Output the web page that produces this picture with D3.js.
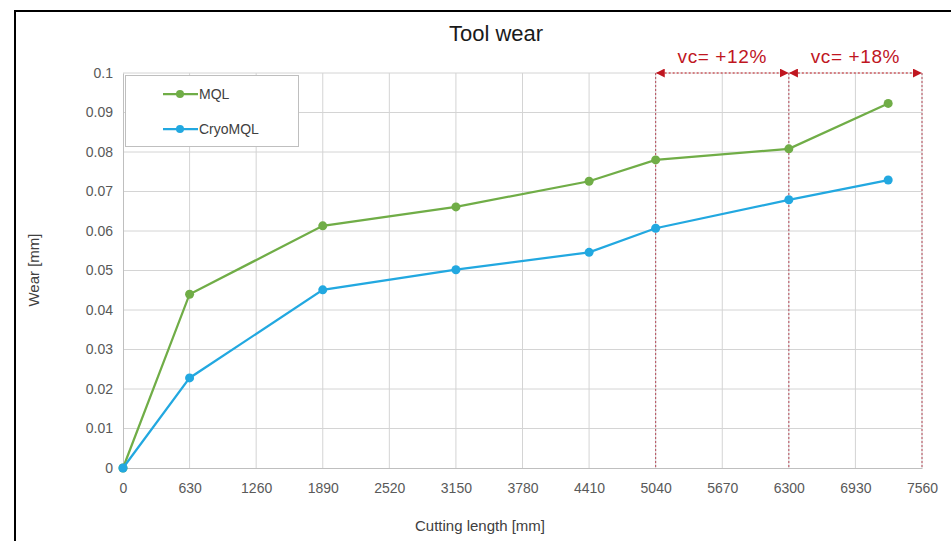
<!DOCTYPE html>
<html><head><meta charset="utf-8">
<script src="https://cdn.jsdelivr.net/npm/d3@7"></script>
<style>
body{margin:0;background:#fff;}
svg{display:block;font-family:"Liberation Sans",Arial,sans-serif;}
</style></head>
<body><svg id="chart" width="951" height="541"></svg>
<script>
const title = "Tool wear";
const xTicks = [0,630,1260,1890,2520,3150,3780,4410,5040,5670,6300,6930,7560];
const yTicks = [0,0.01,0.02,0.03,0.04,0.05,0.06,0.07,0.08,0.09,0.1];
const yTickLabels = ["0","0.01","0.02","0.03","0.04","0.05","0.06","0.07","0.08","0.09","0.1"];
const cuttingLength = [0,630,1890,3150,4410,5040,6300,7240];
const mql = [0,0.0440,0.0613,0.0661,0.0726,0.0780,0.0808,0.0923];
const cryoMql = [0,0.0228,0.0451,0.0502,0.0546,0.0607,0.0679,0.0729];
const seriesNames = ["MQL","CryoMQL"];
const seriesColors = ["#70ad47","#22a8e0"];
const regions = [[5040,6300,"vc= +12%"],[6300,7560,"vc= +18%"]];

const svg = d3.select("#chart");
const red = "#c0161f";
const x = d3.scaleLinear().domain([0,7560]).range([123,922]);
const y = d3.scaleLinear().domain([0,0.1]).range([468,73]);

// frame
svg.append("rect").attr("x",15).attr("y",11).attr("width",960).attr("height",560)
  .attr("fill","none").attr("stroke","#000").attr("stroke-width",2);

// gridlines
svg.append("g").selectAll("line").data(yTicks.slice(1)).join("line")
  .attr("x1",x(0)).attr("x2",x(7560)).attr("y1",d=>y(d)).attr("y2",d=>y(d))
  .attr("stroke","#d4d4d4").attr("stroke-width",1);
svg.append("g").selectAll("line").data(xTicks.slice(1)).join("line")
  .attr("x1",d=>x(d)).attr("x2",d=>x(d)).attr("y1",y(0)).attr("y2",y(0.1))
  .attr("stroke","#d4d4d4").attr("stroke-width",1);

// axes
const xAxis = d3.axisBottom(x).tickValues(xTicks).tickSize(0).tickPadding(15).tickFormat(d3.format("d"));
const gx = svg.append("g").attr("transform",`translate(0,${y(0)})`).call(xAxis);
gx.select(".domain").attr("stroke","#bfbfbf");
gx.selectAll("text").attr("font-size",14).attr("fill","#595959").attr("font-family","Liberation Sans, Arial, sans-serif");

const yAxis = d3.axisLeft(y).tickValues(yTicks).tickSize(0).tickPadding(10).tickFormat((d,i)=>yTickLabels[i]);
const gy = svg.append("g").attr("transform",`translate(${x(0)},0)`).call(yAxis);
gy.select(".domain").attr("stroke","#bfbfbf");
gy.selectAll("text").attr("font-size",14).attr("fill","#595959").attr("font-family","Liberation Sans, Arial, sans-serif");

// title & axis titles
svg.append("text").attr("x",496).attr("y",41).attr("text-anchor","middle")
  .attr("font-size",22).attr("fill","#1a1a1a").text(title);
svg.append("text").attr("x",480).attr("y",531).attr("text-anchor","middle")
  .attr("font-size",15).attr("fill","#404040").text("Cutting length [mm]");
svg.append("text").attr("transform","translate(39,270) rotate(-90)").attr("text-anchor","middle")
  .attr("font-size",15).attr("fill","#404040").text("Wear [mm]");

// annotation regions
const defs = svg.append("defs");
defs.append("marker").attr("id","arr").attr("viewBox","0 0 10 10").attr("refX",9).attr("refY",5)
  .attr("markerWidth",9).attr("markerHeight",9).attr("markerUnits","userSpaceOnUse").attr("orient","auto-start-reverse")
  .append("path").attr("d","M0,0 L10,5 L0,10 Z").attr("fill",red);
const vlines = Array.from(new Set(regions.flatMap(r=>[r[0],r[1]])));
svg.append("g").selectAll("line").data(vlines).join("line")
  .attr("x1",d=>x(d)).attr("x2",d=>x(d)).attr("y1",y(0.1)).attr("y2",y(0))
  .attr("stroke","#b03040").attr("stroke-width",1).attr("stroke-dasharray","2,2").attr("opacity",0.85);
const ag = svg.append("g").selectAll("g").data(regions).join("g");
ag.append("line").attr("x1",d=>x(d[0])+1).attr("x2",d=>x(d[1])-1).attr("y1",y(0.1)).attr("y2",y(0.1))
  .attr("stroke",red).attr("stroke-width",1).attr("stroke-dasharray","2,2")
  .attr("marker-start","url(#arr)").attr("marker-end","url(#arr)");
ag.append("text").attr("x",d=>(x(d[0])+x(d[1]))/2).attr("y",63).attr("text-anchor","middle")
  .attr("font-size",19).attr("letter-spacing",0.6).attr("fill",red).text(d=>d[2]);

// series
const data = [mql, cryoMql];
const line = d3.line().x((d,i)=>x(cuttingLength[i])).y(d=>y(d));
data.forEach((vals,k)=>{
  svg.append("path").datum(vals).attr("d",line).attr("fill","none")
    .attr("stroke",seriesColors[k]).attr("stroke-width",2.25);
  svg.append("g").selectAll("circle").data(vals).join("circle")
    .attr("cx",(d,i)=>x(cuttingLength[i])).attr("cy",d=>y(d)).attr("r",4.5)
    .attr("fill",seriesColors[k]);
});

// legend
const lg = svg.append("g");
lg.append("rect").attr("x",125.5).attr("y",75.5).attr("width",173).attr("height",71)
  .attr("fill","#fff").attr("stroke","#bfbfbf").attr("stroke-width",1);
seriesNames.forEach((n,k)=>{
  const yy = 94 + k*35;
  lg.append("line").attr("x1",163).attr("x2",198).attr("y1",yy).attr("y2",yy)
    .attr("stroke",seriesColors[k]).attr("stroke-width",2.25);
  lg.append("circle").attr("cx",180).attr("cy",yy).attr("r",4).attr("fill",seriesColors[k]);
  lg.append("text").attr("x",199).attr("y",yy+5).attr("font-size",14).attr("fill","#404040").text(n);
});
</script></body></html>
